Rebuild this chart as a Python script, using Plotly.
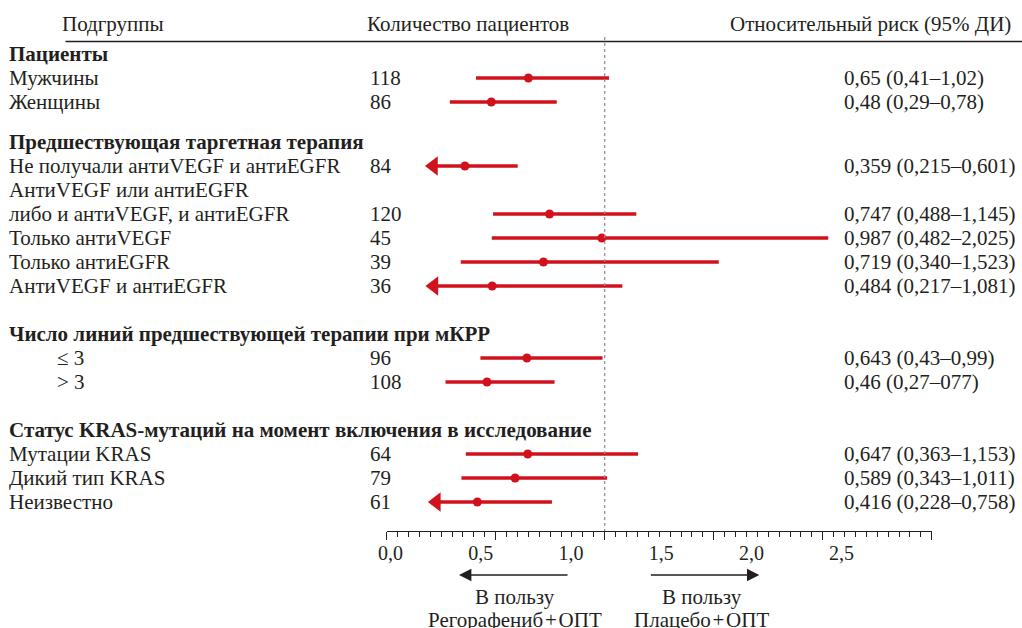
import plotly.graph_objects as go

# ---------------- data ----------------
column_headers = ["Подгруппы", "Количество пациентов", "Относительный риск (95% ДИ)"]

group_titles = [
    "Пациенты",
    "Предшествующая таргетная терапия",
    "Число линий предшествующей терапии при мКРР",
    "Статус KRAS-мутаций на момент включения в исследование",
]
group_sizes = [2, 5, 2, 3]

subgroup_labels = [
    "Мужчины", "Женщины",
    "Не получали антиVEGF и антиEGFR",
    "АнтиVEGF или антиEGFR<br>либо и антиVEGF, и антиEGFR",
    "Только антиVEGF", "Только антиEGFR", "АнтиVEGF и антиEGFR",
    "≤ 3", "> 3",
    "Мутации KRAS", "Дикий тип KRAS", "Неизвестно",
]
subgroup_indented = [False, False, False, False, False, False, False,
                     True, True, False, False, False]

n_patients = [118, 86, 84, 120, 45, 39, 36, 96, 108, 64, 79, 61]
hr = [0.65, 0.48, 0.359, 0.747, 0.987, 0.719, 0.484, 0.643, 0.46, 0.647, 0.589, 0.416]
ci_low = [0.41, 0.29, 0.215, 0.488, 0.482, 0.340, 0.217, 0.43, 0.27, 0.363, 0.343, 0.228]
ci_high = [1.02, 0.78, 0.601, 1.145, 2.025, 1.523, 1.081, 0.99, 0.77, 1.153, 1.011, 0.758]
hr_labels = [
    "0,65 (0,41–1,02)", "0,48 (0,29–0,78)",
    "0,359 (0,215–0,601)", "0,747 (0,488–1,145)", "0,987 (0,482–2,025)",
    "0,719 (0,340–1,523)", "0,484 (0,217–1,081)",
    "0,643 (0,43–0,99)", "0,46 (0,27–077)",
    "0,647 (0,363–1,153)", "0,589 (0,343–1,011)", "0,416 (0,228–0,758)",
]

axis_tick_values = [0.0, 0.5, 1.0, 1.5, 2.0, 2.5]
axis_tick_labels = ["0,0", "0,5", "1,0", "1,5", "2,0", "2,5"]
reference_value = 1.0
clip_low = 0.25          # CIs below this are shown with an arrow

favour_left = ["В пользу", "Регорафениб\u200a+\u200aОПТ"]
favour_right = ["В пользу", "Плацебо\u200a+\u200aОПТ"]

# ---------------- layout constants ----------------
W, H = 1022, 628
AX_Y = 531                 # pixel row of the axis line
X0_PX, X1_PX = 381, 931    # pixel position of data 0 and 2.5
LAB_X0, LAB_X1 = 385, 931  # where the printed scale labels sit (0 .. 3)
ROW_STEP = 24
FIRST_ROW = 54
GROUP_GAP = [0, 16, 24, 24]
TEXT = "#231f20"
RED = "#d1121c"
FONT = "Liberation Serif"
FS = 21


def px(xp):
    return xp / W


# ---------------- row positions ----------------
title_y = []
line_items = []   # (text, y, indented)
data_y = []
y = FIRST_ROW - ROW_STEP
idx = 0
for g, (title, size) in enumerate(zip(group_titles, group_sizes)):
    y += ROW_STEP + GROUP_GAP[g]
    title_y.append(y)
    for _ in range(size):
        for part in subgroup_labels[idx].split("<br>"):
            y += ROW_STEP
            line_items.append((part, y, subgroup_indented[idx]))
        data_y.append(y)
        idx += 1

# ---------------- traces ----------------
fig = go.Figure()

seg_x, seg_y = [], []
for lo, hi, yy in zip(ci_low, ci_high, data_y):
    seg_x += [lo, hi, None]
    seg_y += [yy, yy, None]
fig.add_trace(go.Scatter(x=seg_x, y=seg_y, mode="lines",
                         line=dict(color=RED, width=3.5), hoverinfo="skip"))

arr_x = [lo for lo in ci_low if lo < clip_low]
arr_y = [yy for lo, yy in zip(ci_low, data_y) if lo < clip_low]
fig.add_trace(go.Scatter(x=arr_x, y=arr_y, mode="markers",
                         marker=dict(symbol="triangle-left", size=17, color=RED,
                                     line=dict(width=0)),
                         hoverinfo="skip"))

fig.add_trace(go.Scatter(x=hr, y=data_y, mode="markers",
                         marker=dict(symbol="circle", size=9, color=RED,
                                     line=dict(width=0)),
                         hoverinfo="skip"))

# carrier for the printed scale axis
fig.add_trace(go.Scatter(x=axis_tick_values, y=[AX_Y] * len(axis_tick_values),
                         xaxis="x2", mode="markers", marker=dict(opacity=0),
                         hoverinfo="skip"))

# ---------------- annotations ----------------
ann = []


def txt(s, xp, yv, anchor="left", bold=False, yref="y"):
    ann.append(dict(text=f"<b>{s}</b>" if bold else s, x=px(xp), xref="paper",
                    y=yv, yref=yref, xanchor=anchor, yanchor="middle",
                    align=anchor, showarrow=False, borderpad=0, borderwidth=0,
                    font=dict(family=FONT, size=FS, color=TEXT)))


txt(column_headers[0], 53, 24)
txt(column_headers[1], 361, 24)
txt(column_headers[2], 1011, 24, anchor="right")

for t, yy in zip(group_titles, title_y):
    txt(t, 0, yy, bold=True)
for t, yy, ind in line_items:
    txt(t, 48 if ind else 0, yy)
for n, yy in zip(n_patients, data_y):
    txt(str(n), 364, yy)
for s, yy in zip(hr_labels, data_y):
    txt(s, 842, yy)

for i, (l, r) in enumerate(zip(favour_left, favour_right)):
    yp = 1 - (597 + 23 * i) / H
    txt(l, 510, yp, anchor="center", yref="paper")
    txt(r, 699, yp, anchor="center", yref="paper")

arrow_y = 1 - 575 / H
for tip, off in [(454, 110), (757, -110)]:
    ann.append(dict(text="", x=px(tip), y=arrow_y, xref="paper", yref="paper",
                    showarrow=True, ax=off, ay=0, arrowhead=2, arrowsize=1.9,
                    arrowwidth=1.3, arrowcolor=TEXT, standoff=0))

# ---------------- shapes ----------------
shapes = [
    dict(type="line", xref="x", yref="y", x0=reference_value, x1=reference_value,
         y0=37, y1=AX_Y, line=dict(color="#8c8c8c", width=1.2, dash="dot")),
    dict(type="line", xref="paper", yref="y", x0=px(57), x1=1, y0=41.5, y1=41.5,
         line=dict(color=TEXT, width=1.6)),
]

# ---------------- layout ----------------
lab_per_unit = (LAB_X1 - LAB_X0) / 3.0
fig.update_layout(
    width=W, height=H, margin=dict(l=0, r=0, t=0, b=0),
    paper_bgcolor="white", plot_bgcolor="white", showlegend=False,
    annotations=ann, shapes=shapes,
    xaxis=dict(domain=[px(X0_PX), px(X1_PX)], range=[0, 2.5], anchor="y",
               showline=True, linecolor=TEXT, linewidth=1,
               ticks="outside", tickvals=axis_tick_values, ticklen=8,
               tickwidth=1, tickcolor=TEXT, showticklabels=False,
               showgrid=False, zeroline=False, fixedrange=True,
               minor=dict(dtick=0.05, tick0=0, ticks="outside", ticklen=5,
                          tickwidth=1, tickcolor=TEXT, showgrid=False)),
    xaxis2=dict(overlaying="x", anchor="y", side="bottom",
                range=[(X0_PX - LAB_X0) / lab_per_unit, (X1_PX - LAB_X0) / lab_per_unit],
                tickvals=axis_tick_values, ticktext=axis_tick_labels,
                ticks="outside", ticklen=4, tickcolor="rgba(0,0,0,0)",
                showline=False, showgrid=False, zeroline=False, fixedrange=True,
                tickfont=dict(family=FONT, size=20, color=TEXT)),
    yaxis=dict(domain=[1 - AX_Y / H, 1], range=[AX_Y, 0], visible=False,
               fixedrange=True),
)

fig.write_html("out.html", config={"displayModeBar": False},
               post_script="document.body.style.margin='0px';"
                           "document.body.style.overflow='hidden';")
